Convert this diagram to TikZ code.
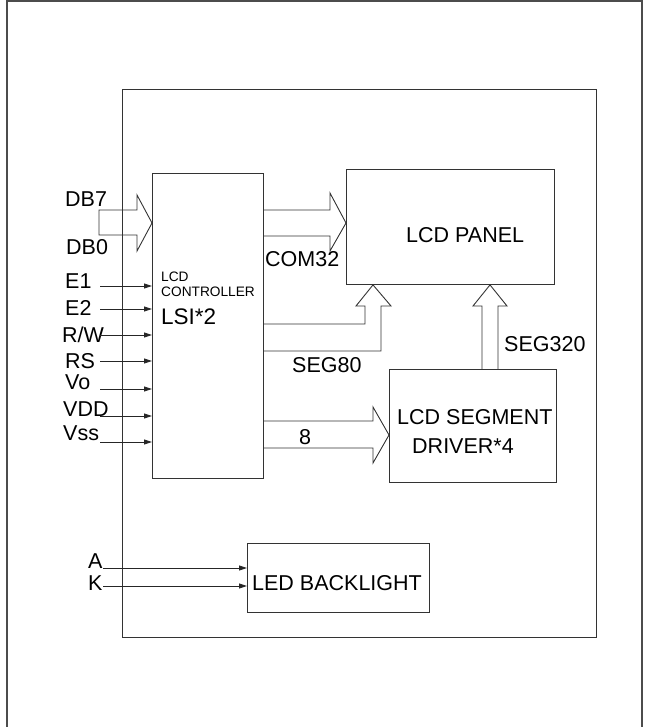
\documentclass[tikz,border=0pt]{standalone}
\usepackage{fontspec}
\setmainfont{Liberation Sans}
\usetikzlibrary{arrows.meta,positioning}
\tikzstyle{block}=[draw=black!80,line width=0.9pt,anchor=north west,inner sep=0pt]
\tikzstyle{txt}=[anchor=base west,inner sep=0pt,font=\fontsize{21.5}{25}\selectfont]
\tikzstyle{small}=[anchor=base west,inner sep=0pt,font=\fontsize{13.7}{15}\selectfont]
\tikzstyle{sig}=[draw=black!85,line width=0.9pt,-{Triangle[length=8pt,width=5pt]}]
\tikzstyle{bus}=[draw=black!80,line width=0.9pt,line join=miter]

\begin{document}
\begin{tikzpicture}[x=1pt,y=-1pt]
  \useasboundingbox (0,0) rectangle (649,727);
  % frames
  \draw[black!70,line width=1.6pt] (7,727) -- (7,1) -- (642,1) -- (642,727);
  \draw[black!80,line width=0.9pt] (122,89) rectangle (596,637);

  % blocks
  \node[block,minimum width=111pt,minimum height=305pt] (ctrl) at (152,173) {};
  \node[block,minimum width=208pt,minimum height=115pt] (panel) at (346,169) {};
  \node[block,minimum width=167pt,minimum height=113pt] (drv) at (389,369) {};
  \node[block,minimum width=182pt,minimum height=69pt] (led) at (247,543) {};

  % block texts
  \node[small] (ctrl1) at (161,281) {LCD};
  \node[small] (ctrl2) at (161,296) {CONTROLLER};
  \node[txt,font=\fontsize{22.5}{25}\selectfont] (ctrl3) at (161,324) {LSI*2};
  \node[txt] (paneltxt) at (406,242) {LCD PANEL};
  \node[txt] (drv1) at (397,424) {LCD SEGMENT};
  \node[txt] (drv2) at (412,453) {DRIVER*4};
  \node[txt] (ledtxt) at (252,590) {LED BACKLIGHT};

  % data bus
  \node[txt] (db7) at (65,207) {DB7};
  \node[txt] (db0) at (66,254) {DB0};
  \coordinate (dbin) at (99,223);
  \draw[bus] (dbin |- 0,210) -- (137,210) -- (137,195) -- (ctrl.west |- dbin)
    -- (137,251) -- (137,235) -- (dbin |- 0,235) -- cycle;

  % control signals
  \foreach \y/\b/\x/\name [count=\i] in {286/288/65/E1, 309/315/65/E2, 335/342/62/{R/W},
      361/368/65/RS, 389/389/65/Vo, 416/416/63/VDD, 442/440/63/Vss} {
    \node[txt] (in\i txt) at (\x,\b) {\name};
    \coordinate (in\i) at (100,\y);
    \draw[sig] (in\i) -- (in\i -| ctrl.west);
  }

  % COM32 bus
  \draw[bus] (ctrl.east |- 0,210) -- (330,210) -- (330,193) -- (panel.west |- 0,223)
    -- (330,251) -- (330,236) -- (ctrl.east |- 0,236);
  \node[txt] (com) at (265,266) {COM32};

  % SEG80 bus
  \draw[bus] (ctrl.east |- 0,324) -- (365,324) -- (365,306) -- (356,306) -- (panel.south -| 373,0)
    -- (391,306) -- (381,306) -- (381,351) -- (ctrl.east |- 0,351);
  \node[txt] (seg80) at (292,372) {SEG80};

  % SEG320 bus
  \draw[bus] (drv.north -| 482,0) -- (482,306) -- (473,306) -- (panel.south -| 490,0)
    -- (507,306) -- (498,306) -- (drv.north -| 498,0);
  \node[txt] (seg320) at (504,351) {SEG320};

  % 8 bit bus
  \draw[bus] (ctrl.east |- 0,421) -- (373,421) -- (373,407) -- (drv.west |- 0,435)
    -- (373,463) -- (373,448) -- (ctrl.east |- 0,448);
  \node[txt] (eight) at (299,444) {8};

  % backlight
  \node[txt] (atxt) at (88,568) {A};
  \node[txt] (ktxt) at (88,590) {K};
  \coordinate (ain) at (103,568);
  \coordinate (kin) at (103,586);
  \draw[sig] (ain) -- (ain -| led.west);
  \draw[sig] (kin) -- (kin -| led.west);
\end{tikzpicture}
\end{document}
